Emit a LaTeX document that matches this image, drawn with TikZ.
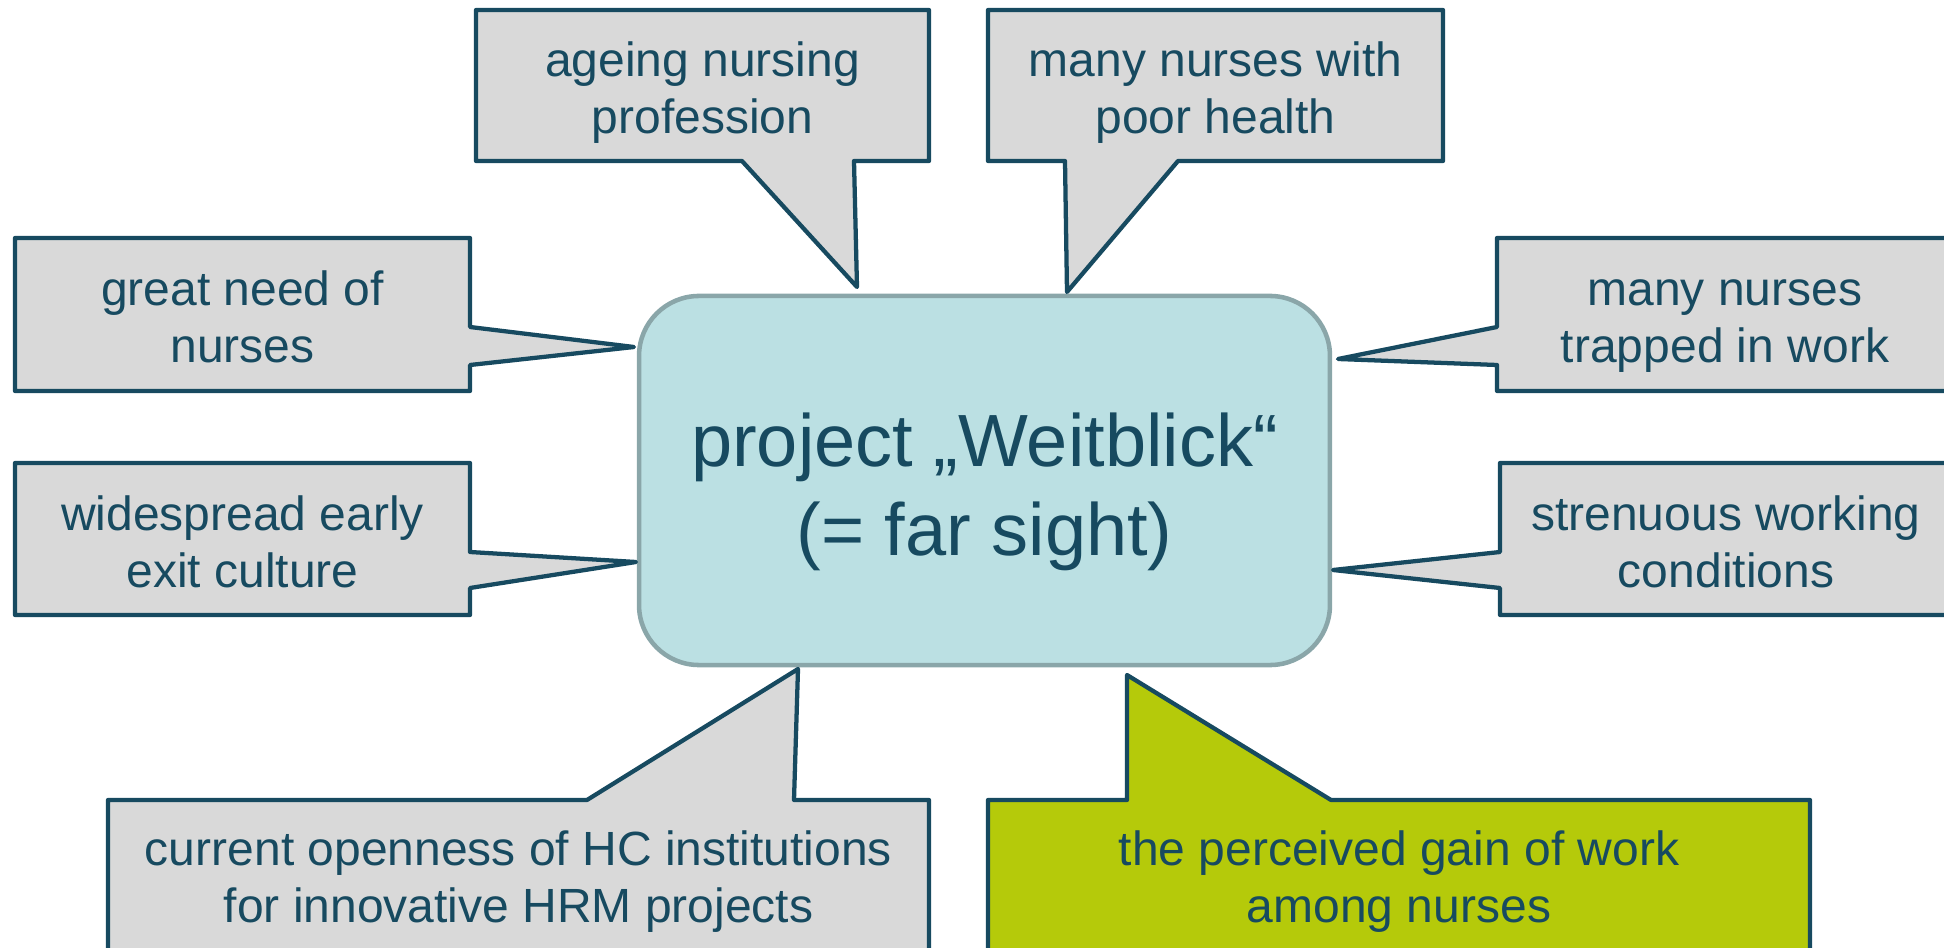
\documentclass[tikz,border=0pt]{standalone}
\usepackage{fontspec}
\setmainfont{Liberation Sans}
\definecolor{navy}{HTML}{174A60}
\definecolor{boxgray}{HTML}{D9D9D9}
\definecolor{hubfill}{HTML}{BBE0E3}
\definecolor{hubline}{HTML}{8AA6A9}
\definecolor{lime}{HTML}{B5CA0A}
\begin{document}
\begin{tikzpicture}[x=0.375pt,y=-0.375pt,
  callout/.style={draw=navy, line width=1.6pt, line join=round, fill=boxgray},
  greencallout/.style={callout, fill=lime},
  lbl/.style={text=navy, align=center, inner sep=0pt, font=\fontsize{18}{21.375}\selectfont},
  hubbox/.style={draw=hubline, fill=hubfill, line width=1.7pt, rounded corners=22.5pt,
    minimum width=259.1pt, minimum height=138.4pt, inner sep=0pt},
  hubtext/.style={text=navy, align=center, inner sep=0pt, font=\fontsize{27.75}{33.75}\selectfont}]
\useasboundingbox (0,0) rectangle (1944,948);
\clip (0,0) rectangle (1944,948);

% central box
\node[hubbox] (hub) at (984.5,480.5) {};
\node[hubtext] (hubtext) at (984.5,493) {\strut project „Weitblick“\\\strut (= far sight)};

% callouts
\draw[callout] (476,10) -- (929,10) -- (929,161) -- (854,161) -- (857,287) -- (742,161) -- (476,161) -- cycle;
\node[lbl] (ageing) at (702.5,94) {\strut ageing nursing\\\strut profession};

\draw[callout] (988,10) -- (1443,10) -- (1443,161) -- (1178,161) -- (1067,292) -- (1065,161) -- (988,161) -- cycle;
\node[lbl] (health) at (1215.5,94) {\strut many nurses with\\\strut poor health};

\draw[callout] (15,238) -- (470,238) -- (470,327) -- (634,347) -- (470,365) -- (470,391) -- (15,391) -- cycle;
\node[lbl] (need) at (242.5,323) {\strut great need of\\\strut nurses};

\draw[callout] (15,463) -- (470,463) -- (470,552) -- (636,562) -- (470,588) -- (470,615) -- (15,615) -- cycle;
\node[lbl] (exit) at (242.5,548) {\strut widespread early\\\strut exit culture};

\draw[callout] (1965,238) -- (1497,238) -- (1497,327) -- (1338,359) -- (1497,365) -- (1497,391) -- (1965,391) -- cycle;
\node[lbl] (trapped) at (1725,323) {\strut many nurses\\\strut trapped in work};

\draw[callout] (1965,463) -- (1500,463) -- (1500,552) -- (1333,570) -- (1500,588) -- (1500,615) -- (1965,615) -- cycle;
\node[lbl] (strenuous) at (1726,548) {\strut strenuous working\\\strut conditions};

\draw[callout] (108,800) -- (587,800) -- (798,669) -- (794,800) -- (929,800) -- (929,965) -- (108,965) -- cycle;
\node[lbl] (openness) at (518.5,883) {\strut current openness of HC institutions\\\strut for innovative HRM projects};

\draw[greencallout] (988,800) -- (1127,800) -- (1127,675) -- (1331,800) -- (1810,800) -- (1810,965) -- (988,965) -- cycle;
\node[lbl] (gain) at (1399,883) {\strut the perceived gain of work\\\strut among nurses};
\end{tikzpicture}
\end{document}
